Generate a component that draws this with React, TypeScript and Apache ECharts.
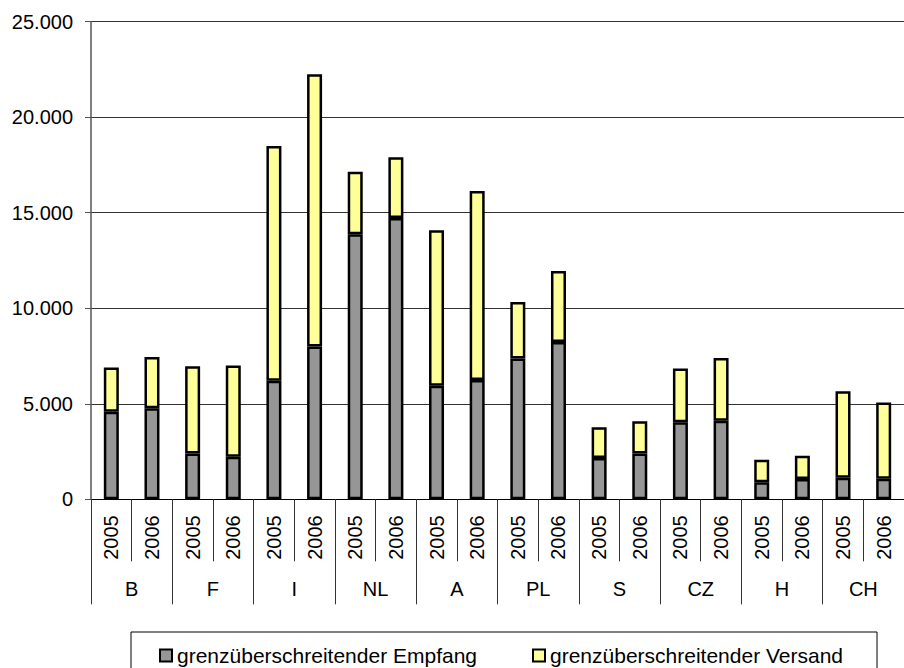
import React, { useEffect, useRef } from "react";
import * as echarts from "echarts";

// Countries (outer axis level) and years (inner axis level)
const countries = ["B", "F", "I", "NL", "A", "PL", "S", "CZ", "H", "CH"];
const years = ["2005", "2006"];

// Cross-border receipt (Empfang), per country and year, in order 2005, 2006
const empfang = [
  4580, 4760, 2400, 2230, 6200, 8000, 13880, 14730, 5940, 6240,
  7370, 8230, 2160, 2400, 4030, 4110, 890, 1060, 1130, 1080,
];

// Cross-border dispatch (Versand), stacked on top of receipt
const versand = [
  2320, 2690, 4570, 4770, 12300, 14250, 3270, 3170, 8140, 9900,
  2960, 3720, 1610, 1680, 2820, 3290, 1180, 1220, 4520, 3990,
];

const yTicks = [0, 5000, 10000, 15000, 20000, 25000];

const FONT = "'Liberation Sans', Arial, Helvetica, sans-serif";

const yearCategories = countries.flatMap(() => years);

function formatThousands(v: number): string {
  return String(v).replace(/\B(?=(\d{3})+(?!\d))/g, ".");
}

export default function App() {
  const ref = useRef<HTMLDivElement>(null);

  useEffect(() => {
    if (!ref.current) return;
    const chart = echarts.init(ref.current, undefined, { renderer: "svg" });

    chart.setOption({
      animation: false,
      backgroundColor: "#ffffff",
      textStyle: { fontFamily: FONT },
      grid: { left: 91, right: -8, top: 21.7, bottom: 168.7, containLabel: false },
      legend: {
        left: 131,
        top: 632,
        orient: "horizontal",
        padding: [13, 34, 30, 28],
        itemGap: 55,
        itemWidth: 12,
        itemHeight: 12,
        icon: "rect",
        borderColor: "#000",
        borderWidth: 1,
        borderRadius: 0,
        textStyle: { fontFamily: FONT, fontSize: 21, color: "#000" },
        data: ["grenzüberschreitender Empfang", "grenzüberschreitender Versand"],
      },
      xAxis: [
        {
          type: "category",
          position: "bottom",
          data: yearCategories,
          boundaryGap: true,
          axisLine: { show: true, lineStyle: { color: "#000", width: 1 } },
          axisTick: {
            show: true,
            interval: 0,
            length: 62,
            lineStyle: { color: "#333", width: 1 },
          },
          axisLabel: {
            interval: 0,
            rotate: 90,
            margin: 16,
            fontFamily: FONT,
            fontSize: 20,
            color: "#000",
          },
          splitLine: { show: false },
        },
        {
          type: "category",
          position: "bottom",
          data: countries,
          boundaryGap: true,
          axisLine: { show: false },
          axisTick: {
            show: true,
            interval: 0,
            length: 105,
            lineStyle: { color: "#333", width: 1 },
          },
          axisLabel: {
            interval: 0,
            margin: 80,
            fontFamily: FONT,
            fontSize: 20,
            color: "#000",
          },
          splitLine: { show: false },
        },
      ],
      yAxis: {
        type: "value",
        min: yTicks[0],
        max: yTicks[yTicks.length - 1],
        interval: 5000,
        axisLine: { show: true, lineStyle: { color: "#555", width: 1.5 } },
        axisTick: { show: true, length: 6, lineStyle: { color: "#555", width: 1 } },
        axisLabel: {
          margin: 18,
          fontFamily: FONT,
          fontSize: 20,
          color: "#000",
          formatter: (v: number) => formatThousands(v),
        },
        splitLine: { show: true, lineStyle: { color: "#333", width: 1 } },
      },
      series: [
        {
          name: "grenzüberschreitender Empfang",
          type: "bar",
          stack: "total",
          xAxisIndex: 0,
          barWidth: 15,
          data: empfang,
          itemStyle: { color: "#969696", borderColor: "#000", borderWidth: 2.5 },
        },
        {
          name: "grenzüberschreitender Versand",
          type: "bar",
          stack: "total",
          xAxisIndex: 0,
          barWidth: 15,
          data: versand,
          itemStyle: { color: "#FFFF99", borderColor: "#000", borderWidth: 2.5 },
        },
      ],
    });

    return () => chart.dispose();
  }, []);

  return (
    <div
      ref={ref}
      style={{ position: "absolute", left: 0, top: 0, width: 904, height: 668 }}
    />
  );
}
